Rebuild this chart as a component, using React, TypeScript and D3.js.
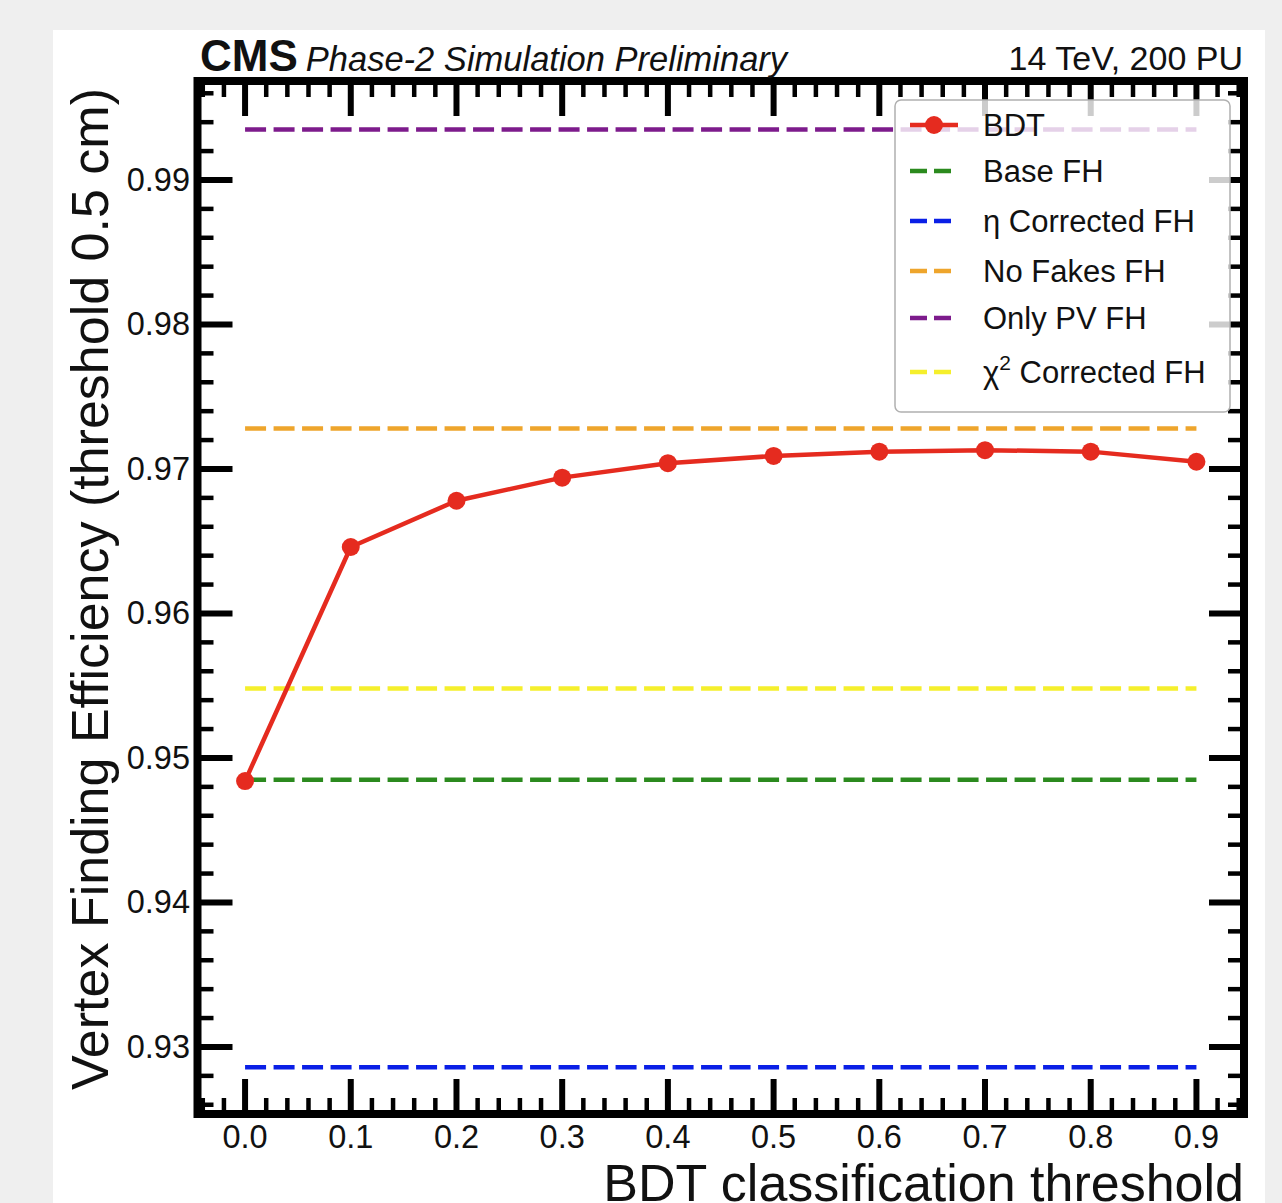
import React from "react";
import * as d3 from "d3";

const WIDTH = 1282;
const HEIGHT = 1203;

// BDT scan: efficiency vs classification threshold
const thresholds = [0.0, 0.1, 0.2, 0.3, 0.4, 0.5, 0.6, 0.7, 0.8, 0.9];
const bdtEff = [0.9484, 0.9646, 0.9678, 0.9694, 0.9704, 0.9709, 0.9712, 0.9713, 0.9712, 0.9705];

// Fast-histo reference efficiencies (flat lines)
const refNames = ["Base FH", "η Corrected FH", "No Fakes FH", "Only PV FH", "χ2 Corrected FH"];
const refValues = [0.9485, 0.9286, 0.9728, 0.9935, 0.9548];
const refColors = ["#2b8a1e", "#0a1fe6", "#eea52c", "#7d1b8c", "#f5ef2c"];

const xTicks = [0, 0.1, 0.2, 0.3, 0.4, 0.5, 0.6, 0.7, 0.8, 0.9];
const yTicks = [0.93, 0.94, 0.95, 0.96, 0.97, 0.98, 0.99];

const FONT = "'Liberation Sans', Arial, Helvetica, sans-serif";
const RED = "#e52b1f";

export default function App() {
  const x = d3.scaleLinear().domain([-0.045, 0.945]).range([197.5, 1244]);
  const y = d3.scaleLinear().domain([0.92536, 0.99685]).range([1114, 81]);
  const [x0, x1] = x.range();
  const [yb, yt] = y.range();

  const line = d3
    .line<number>()
    .x((_, i) => x(thresholds[i]))
    .y((d) => y(d));

  // minor ticks every 0.02 on x and 0.002 on y, skipping the majors
  const xMinor = d3.range(-0.04, 0.95, 0.02).filter((v) => Math.abs(Math.round(v * 10) - v * 10) > 1e-6);
  const yMinor = d3.range(0.926, 0.997, 0.002).filter((v) => Math.abs(Math.round(v * 100) - v * 100) > 1e-6);

  const MAJ = 35;
  const MIN = 16;

  const legendItems = [
    { label: "BDT", color: RED, marker: true },
    ...refNames.map((n, i) => ({ label: n, color: refColors[i], marker: false })),
  ];
  const legendY = [125, 171, 221, 271, 318, 372];

  return (
    <svg width={WIDTH} height={HEIGHT} style={{ display: "block", position: "absolute", left: 0, top: 0 }}>
      <rect x={0} y={0} width={WIDTH} height={HEIGHT} fill="#efefef" />
      <rect x={53} y={30} width={1212} height={1200} fill="#ffffff" />

      {/* reference lines */}
      {refValues.map((v, i) => (
        <line
          key={refNames[i]}
          x1={x(0)}
          x2={x(0.9)}
          y1={y(v)}
          y2={y(v)}
          stroke={refColors[i]}
          strokeWidth={4.5}
          strokeDasharray="21 7.5"
        />
      ))}

      {/* BDT curve */}
      <path d={line(bdtEff) || ""} fill="none" stroke={RED} strokeWidth={4.5} strokeLinejoin="round" />
      {bdtEff.map((v, i) => (
        <circle key={i} cx={x(thresholds[i])} cy={y(v)} r={9} fill={RED} />
      ))}

      {/* ticks: all four sides, inward */}
      <g stroke="#000">
        {xTicks.map((t) => (
          <g key={"xt" + t} strokeWidth={6}>
            <line x1={x(t)} x2={x(t)} y1={yb} y2={yb - MAJ} />
            <line x1={x(t)} x2={x(t)} y1={yt} y2={yt + MAJ} />
          </g>
        ))}
        {xMinor.map((t) => (
          <g key={"xm" + t} strokeWidth={4.5}>
            <line x1={x(t)} x2={x(t)} y1={yb} y2={yb - MIN} />
            <line x1={x(t)} x2={x(t)} y1={yt} y2={yt + MIN} />
          </g>
        ))}
        {yTicks.map((t) => (
          <g key={"yt" + t} strokeWidth={6}>
            <line x1={x0} x2={x0 + MAJ} y1={y(t)} y2={y(t)} />
            <line x1={x1} x2={x1 - MAJ} y1={y(t)} y2={y(t)} />
          </g>
        ))}
        {yMinor.map((t) => (
          <g key={"ym" + t} strokeWidth={4.5}>
            <line x1={x0} x2={x0 + MIN} y1={y(t)} y2={y(t)} />
            <line x1={x1} x2={x1 - MIN} y1={y(t)} y2={y(t)} />
          </g>
        ))}
      </g>

      {/* legend */}
      <g fontFamily={FONT} fontSize={31}>
        <rect x={895} y={100} width={335} height={312} rx={6} fill="#ffffff" fillOpacity={0.8} stroke="#b0b0b0" strokeWidth={1.5} />
        {legendItems.map((d, i) => (
          <g key={d.label}>
            {d.marker ? (
              <>
                <line x1={910} x2={958} y1={legendY[i]} y2={legendY[i]} stroke={d.color} strokeWidth={4.5} />
                <circle cx={934} cy={legendY[i]} r={9} fill={d.color} />
              </>
            ) : (
              <line x1={910} x2={958} y1={legendY[i]} y2={legendY[i]} stroke={d.color} strokeWidth={4.5} strokeDasharray="17 7" />
            )}
            <text x={983} y={legendY[i] + 11} fill="#111">
              {d.label.startsWith("χ2") ? (
                <>
                  χ<tspan dy={-13} fontSize={21}>2</tspan>
                  <tspan dy={13}> Corrected FH</tspan>
                </>
              ) : (
                d.label
              )}
            </text>
          </g>
        ))}
      </g>

      {/* frame */}
      <rect x={x0} y={yt} width={x1 - x0} height={yb - yt} fill="none" stroke="#000" strokeWidth={8} />

      {/* tick labels */}
      <g fontFamily={FONT} fontSize={32.5} fill="#111">
        {xTicks.map((t) => (
          <text key={"xl" + t} x={x(t)} y={1148} textAnchor="middle">
            {d3.format(".1f")(t)}
          </text>
        ))}
        {yTicks.map((t) => (
          <text key={"yl" + t} x={190} y={y(t) + 11} textAnchor="end">
            {d3.format(".2f")(t)}
          </text>
        ))}
      </g>

      {/* axis titles */}
      <text x={1244} y={1201} textAnchor="end" fontFamily={FONT} fontSize={52} fill="#111">
        BDT classification threshold
      </text>
      <text
        transform={`translate(108, 589) rotate(-90)`}
        textAnchor="middle"
        fontFamily={FONT}
        fontSize={52}
        fill="#111"
      >
        Vertex Finding Efficiency (threshold 0.5 cm)
      </text>

      {/* header */}
      <text x={200} y={71} fontFamily={FONT} fontSize={44} fontWeight="bold" fill="#111">
        CMS
        <tspan dx={8} fontSize={34.5} fontWeight="normal" fontStyle="italic">
          Phase-2 Simulation Preliminary
        </tspan>
      </text>
      <text x={1243} y={70} textAnchor="end" fontFamily={FONT} fontSize={34} fill="#111">
        14 TeV, 200 PU
      </text>
    </svg>
  );
}
